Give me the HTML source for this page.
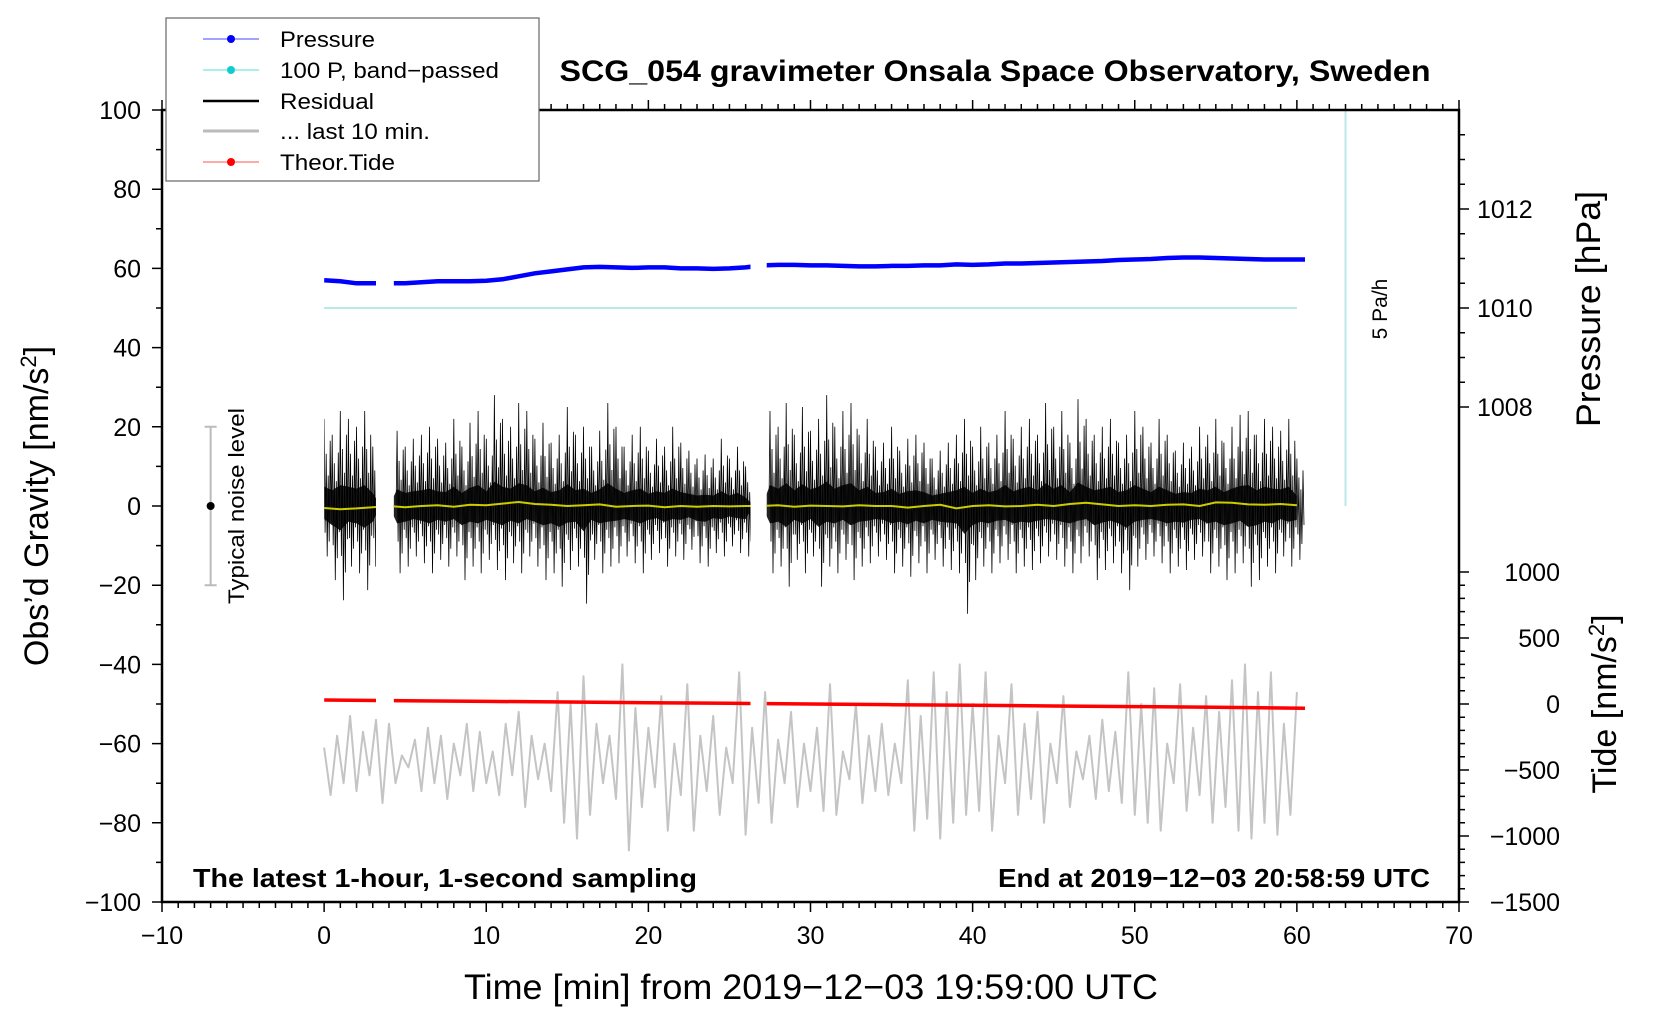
<!DOCTYPE html>
<html><head><meta charset="utf-8"><style>
html,body{margin:0;padding:0;background:#fff;}
svg{display:block;font-family:"Liberation Sans",sans-serif;}
</style></head><body>
<svg id="chart" width="1660" height="1020" viewBox="0 0 1660 1020" xmlns="http://www.w3.org/2000/svg">
<defs>
<clipPath id="segclip"><rect id="cs1" x="0" y="0" width="0" height="1020"/><rect id="cs2" x="0" y="0" width="0" height="1020"/><rect id="cs3" x="0" y="0" width="0" height="1020"/></clipPath>
</defs>
<g id="marks"></g>
<g id="axes"></g>
<text x="995" y="81" font-size="30" font-weight="bold" text-anchor="middle" textLength="871" lengthAdjust="spacingAndGlyphs">SCG_054 gravimeter Onsala Space Observatory, Sweden</text>
<text transform="translate(48,506) rotate(-90)" font-size="34" text-anchor="middle">Obs’d Gravity [nm/s<tspan dy="-12" font-size="22">2</tspan><tspan dy="12">]</tspan></text>
<text x="811" y="999" font-size="35" text-anchor="middle" textLength="694" lengthAdjust="spacingAndGlyphs">Time [min] from 2019−12−03 19:59:00 UTC</text>
<text transform="translate(1600,309) rotate(-90)" font-size="34" text-anchor="middle" textLength="236" lengthAdjust="spacingAndGlyphs">Pressure [hPa]</text>
<text transform="translate(1616,704) rotate(-90)" font-size="34" text-anchor="middle">Tide [nm/s<tspan dy="-12" font-size="22">2</tspan><tspan dy="12">]</tspan></text>
<text x="193" y="887" font-size="26" font-weight="bold" textLength="504" lengthAdjust="spacingAndGlyphs">The latest 1-hour, 1-second sampling</text>
<text x="1430" y="887" font-size="26" font-weight="bold" text-anchor="end" textLength="432" lengthAdjust="spacingAndGlyphs">End at 2019−12−03 20:58:59 UTC</text>
<text transform="translate(1387,309) rotate(-90)" font-size="21" text-anchor="middle">5 Pa/h</text>
<text transform="translate(244,506) rotate(-90)" font-size="22" text-anchor="middle" textLength="196" lengthAdjust="spacingAndGlyphs">Typical noise level</text>
<g>
<rect x="166" y="18" width="373" height="163" fill="#fff" stroke="#666" stroke-width="1.2"/>
<line x1="203" y1="39" x2="259" y2="39" stroke="#4444ff" stroke-width="1"/><circle cx="231" cy="39" r="4" fill="#0000ff"/>
<text x="280" y="47" font-size="22" textLength="95" lengthAdjust="spacingAndGlyphs">Pressure</text>
<line x1="203" y1="70" x2="259" y2="70" stroke="#55dddd" stroke-width="1"/><circle cx="231" cy="70" r="4" fill="#11cccc"/>
<text x="280" y="78" font-size="22" textLength="219" lengthAdjust="spacingAndGlyphs">100 P, band−passed</text>
<line x1="203" y1="101" x2="259" y2="101" stroke="#000" stroke-width="2.5"/>
<text x="280" y="109" font-size="22" textLength="94" lengthAdjust="spacingAndGlyphs">Residual</text>
<line x1="203" y1="131" x2="259" y2="131" stroke="#bbb" stroke-width="3"/>
<text x="280" y="139" font-size="22" textLength="150" lengthAdjust="spacingAndGlyphs">... last 10 min.</text>
<line x1="203" y1="162" x2="259" y2="162" stroke="#ff5555" stroke-width="1"/><circle cx="231" cy="162" r="4" fill="#ff0000"/>
<text x="280" y="170" font-size="22" textLength="115" lengthAdjust="spacingAndGlyphs">Theor.Tide</text>
</g>
</svg>
<script>
// ---- data ----
const xTicks=[-10,0,10,20,30,40,50,60,70];
const yTicks=[-100,-80,-60,-40,-20,0,20,40,60,80,100];
const pTicks=[1008,1010,1012];
const tideTicks=[-1500,-1000,-500,0,500,1000];
const segments=[[0,3.2],[4.3,26.3],[27.3,60.5]];
const pressureTimes=[0,1,2,3,4,5,6,7,8,9,10,11,12,13,14,15,16,17,18,19,20,21,22,23,24,25,26,27,28,29,30,31,32,33,34,35,36,37,38,39,40,41,42,43,44,45,46,47,48,49,50,51,52,53,54,55,56,57,58,59,60,60.5];
const pressureHPa=[1010.56,1010.54,1010.50,1010.50,1010.50,1010.50,1010.52,1010.54,1010.54,1010.54,1010.55,1010.58,1010.64,1010.70,1010.74,1010.78,1010.82,1010.83,1010.82,1010.81,1010.82,1010.82,1010.80,1010.80,1010.79,1010.80,1010.82,1010.86,1010.87,1010.87,1010.86,1010.86,1010.85,1010.84,1010.84,1010.85,1010.85,1010.86,1010.86,1010.88,1010.87,1010.88,1010.90,1010.90,1010.91,1010.92,1010.93,1010.94,1010.95,1010.97,1010.98,1010.99,1011.01,1011.02,1011.02,1011.01,1011.00,1010.99,1010.98,1010.98,1010.98,1010.98];
const tideTimes=[0,5,10,15,20,25,30,35,40,45,50,55,60.5];
const tideNm=[30,25,20,15,10,5,0,-5,-10,-15,-20,-25,-32];
const resHi=[22,18,24,22,20,24,15,null,null,
19,15,17,18,20,17,16,22,15,21,24,17,28,22,20,26,24,17,21,16,18,25,18,20,15,19,26,20,15,18,20,14,17,15,20,16,14,12,13,12,17,12,15,10,
null,null,
24,20,26,18,25,19,22,28,20,24,26,18,22,15,16,20,14,17,18,16,12,14,16,18,22,15,20,16,18,24,17,20,22,18,26,20,24,16,27,22,18,20,22,16,18,24,20,16,22,18,14,16,15,20,18,22,16,20,23,24,18,22,20,19,22,12];
const resLo=[-15,-22,-28,-18,-20,-25,-18,null,null,
-20,-18,-15,-17,-20,-16,-18,-15,-22,-18,-20,-16,-19,-22,-17,-20,-15,-18,-22,-20,-24,-19,-18,-29,-16,-20,-18,-17,-15,-17,-20,-16,-14,-18,-15,-16,-13,-17,-18,-14,-15,-12,-14,-15,
null,null,
-20,-18,-24,-16,-20,-15,-24,-18,-20,-16,-22,-18,-17,-15,-16,-20,-18,-21,-17,-20,-16,-18,-19,-20,-32,-22,-18,-20,-17,-16,-20,-18,-19,-17,-15,-16,-18,-20,-17,-15,-22,-19,-17,-20,-25,-18,-16,-15,-17,-20,-18,-19,-16,-15,-20,-18,-22,-20,-17,-24,-22,-18,-20,-15,-18,-16];
const smoothRes=[-0.5,-0.8,-0.6,-0.3,0,-0.3,0,0.2,-0.2,0.3,0.2,0.6,1.0,0.5,0.3,0,0.2,0.4,-0.2,0,0.1,-0.3,0,-0.2,0,-0.1,0,0,0.2,-0.2,0.1,0,-0.1,0.2,0,0,-0.4,0,0.3,-0.6,0,0.2,-0.1,0,0.3,0,0.5,0.8,0.4,0,0.2,0,0.3,0.4,0,0.9,0.8,0.4,0.3,0.5,0.2];
const lastTen=[-61,-73,-58,-70,-53,-72,-57,-68,-54,-75,
-55,-70,-63,-66,-59,-72,-56,-70,-58,-74,
-60,-68,-55,-72,-57,-70,-62,-73,-55,-68,
-52,-76,-58,-69,-60,-72,-47,-80,-50,-84,
-43,-78,-55,-70,-58,-74,-40,-87,-51,-76,
-56,-71,-48,-82,-60,-73,-45,-82,-58,-72,
-53,-78,-61,-70,-42,-83,-56,-75,-47,-80,
-59,-70,-52,-76,-60,-72,-56,-77,-45,-78,
-62,-69,-50,-75,-58,-72,-55,-73,-60,-70,
-44,-82,-53,-79,-42,-84,-47,-80,-40,-78,
-50,-77,-42,-82,-58,-70,-45,-78,-55,-74,
-52,-80,-60,-70,-48,-76,-62,-69,-58,-74,
-54,-72,-57,-75,-42,-78,-50,-80,-46,-82,
-60,-70,-45,-77,-56,-73,-48,-80,-52,-76,
-44,-82,-40,-84,-47,-80,-42,-83,-55,-78,
-47];
// ---- scales ----
const L=162,R=1459,T=110,B=902;
const X=t=>L+(t+10)/80*(R-L);
const Y=v=>T+(100-v)/200*(B-T);
const pToV=p=>50+(p-1010)*12.5;
const tideToV=n=>-50+n/500*(66/3.96);
const NS='http://www.w3.org/2000/svg';
const marks=document.getElementById('marks'),axes=document.getElementById('axes');
function mk(tag,attrs,parent){const e=document.createElementNS(NS,tag);for(const k in attrs)e.setAttribute(k,attrs[k]);parent.appendChild(e);return e;}
segments.forEach((s,i)=>{const r=document.getElementById('cs'+(i+1));r.setAttribute('x',X(s[0]));r.setAttribute('width',X(s[1])-X(s[0]));});
let el;
el=mk('line',{x1:X(0),x2:X(60),y1:Y(50),y2:Y(50),stroke:'#b8e8e8','stroke-width':2},marks);


el=mk('line',{x1:X(63),x2:X(63),y1:T,y2:Y(0),stroke:'#b8e8e8','stroke-width':2},marks);


el=mk('path',{d:`M${X(-7)-6},${Y(20)}H${X(-7)+6}M${X(-7)},${Y(20)}V${Y(-20)}M${X(-7)-6},${Y(-20)}H${X(-7)+6}`,stroke:'#bbb','stroke-width':2,fill:'none'},marks);


el=mk('circle',{cx:X(-7),cy:Y(0),r:4,fill:'#000'},marks);


let d='';lastTen.forEach((v,i)=>{d+=(i?'L':'M')+X(i*0.4).toFixed(1)+','+Y(v).toFixed(1);});
el=mk('path',{d:d,stroke:'#c4c4c4','stroke-width':2,fill:'none','stroke-linejoin':'round'},marks);


const g=mk('g',{'clip-path':'url(#segclip)'},marks);
let core='',coreB='';d='';
const f=[1,-0.45,0.6,-0.85,0.35,-0.6,0.75,-0.3];
for(let i=0;i<resHi.length;i++){
  const hi=resHi[i]===null?0:resHi[i], lo=resLo[i]===null?0:resLo[i];
  const t=i*0.5;
  for(let k=0;k<8;k++){
    const tt=t+k*0.5/8;
    const v=(k%2===0)?hi*Math.abs(f[k]):lo*Math.abs(f[k]);
    d+=(d?'L':'M')+X(tt).toFixed(1)+','+Y(v).toFixed(1);
  }
  core+=(i?'L':'M')+X(t).toFixed(1)+','+Y(hi*0.22).toFixed(1);
  coreB=`L${X(t).toFixed(1)},${Y(lo*0.22).toFixed(1)}`+coreB;
}
el=mk('path',{d:core+coreB+'Z',fill:'#222'},g);


el=mk('path',{d:d,stroke:'#000','stroke-width':0.8,fill:'none'},g);


d='';smoothRes.forEach((v,i)=>{d+=(i?'L':'M')+X(i).toFixed(1)+','+Y(v).toFixed(1);});
el=mk('path',{d:d,stroke:'#cccc00','stroke-width':2,fill:'none'},g);


d='';pressureTimes.forEach((t,i)=>{d+=(i?'L':'M')+X(t).toFixed(1)+','+Y(pToV(pressureHPa[i])).toFixed(1);});
el=mk('path',{d:d,stroke:'#0000ff','stroke-width':4.5,fill:'none'},g);


d='';tideTimes.forEach((t,i)=>{d+=(i?'L':'M')+X(t).toFixed(1)+','+Y(tideToV(tideNm[i])).toFixed(1);});
el=mk('path',{d:d,stroke:'#ff0000','stroke-width':3.5,fill:'none'},g);


el=mk('path',{d:`M${L},${T}H${R}V${B}H${L}Z`,stroke:'#000','stroke-width':2.5,fill:'none'},axes);


let tk='';
for(let t=-10;t<=70;t++){const len=t%10===0?10:6;tk+=`M${X(t)},${B}v${len}M${X(t)},${T}v${-len}`;}
for(let v=-100;v<=100;v+=10){const len=v%20===0?10:6;tk+=`M${L},${Y(v)}h${-len}`;}
for(let p=1007;p<=1013.6;p+=0.5){const y=Y(pToV(p));if(y<T||y>Y(20))continue;tk+=`M${R},${y}h${p%2===0?10:6}`;}
for(let n=-1500;n<=1000;n+=100){const y=Y(tideToV(n));tk+=`M${R},${y}h${n%500===0?10:6}`;}
el=mk('path',{d:tk,stroke:'#000','stroke-width':1.5,fill:'none'},axes);


xTicks.forEach(t=>{const e=mk('text',{x:X(t),y:B+42,'font-size':25,'text-anchor':'middle'},axes);e.textContent=String(t).replace('-','−');

});
yTicks.forEach(v=>{const e=mk('text',{x:L-21,y:Y(v)+9,'font-size':25,'text-anchor':'end'},axes);e.textContent=String(v).replace('-','−');

});
pTicks.forEach(p=>{const e=mk('text',{x:1477,y:Y(pToV(p))+9,'font-size':25},axes);e.textContent=p;

});
tideTicks.forEach(n=>{const e=mk('text',{x:1560,y:Y(tideToV(n))+9,'font-size':25,'text-anchor':'end'},axes);e.textContent=String(n).replace('-','−');

});
</script>
</body></html>
